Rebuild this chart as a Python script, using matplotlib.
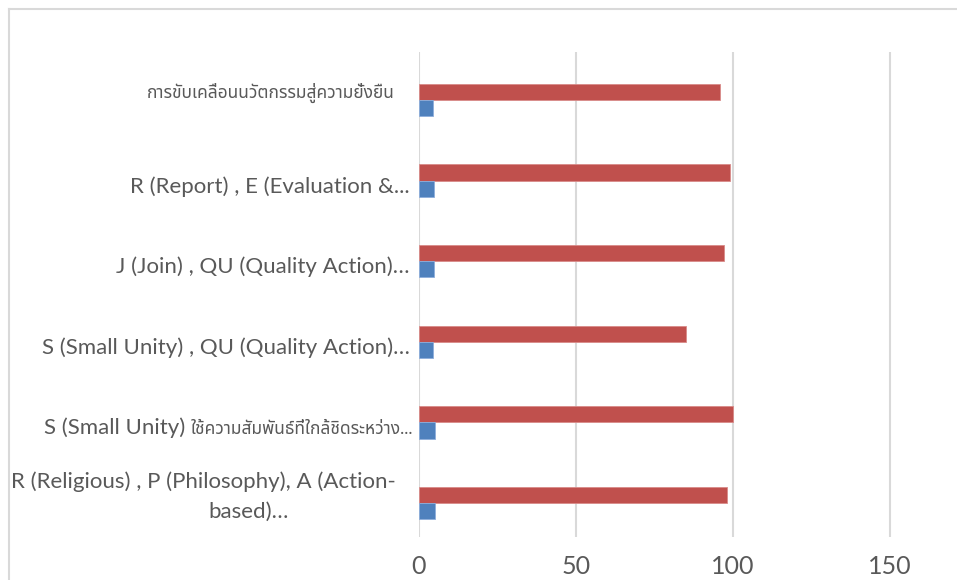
import numpy as np
import matplotlib
matplotlib.use("Agg")
import matplotlib.pyplot as plt
from matplotlib import font_manager as fm
from matplotlib.lines import Line2D
from matplotlib.transforms import blended_transform_factory, offset_copy

# categories, top -> bottom
categories = [
    "การขับเคลื่อนนวัตกรรมสู่ความยั่งยืน",
    "R (Report) , E (Evaluation &...",
    "J (Join) , QU (Quality Action)…",
    "S (Small Unity) , QU (Quality Action)…",
    ("S (Small Unity) ", "ใช้ความสัมพันธ์ที่ใกล้ชิดระหว่าง..."),
    "R (Religious) , P (Philosophy), A (Action-\nbased)…",
]
red_values = [96, 99, 97, 85, 100, 98]
blue_values = [4.6, 4.9, 4.7, 4.4, 5.1, 5.1]
x_ticks = [0, 50, 100, 150]


def find_thai_font():
    preferred = ["Noto Sans Thai", "Noto Sans Thai UI", "Tahoma", "Loma", "Garuda",
                 "Sarabun", "Tlwg Typo", "Norasi", "Kinnari", "Waree", "Umpush"]
    names = {f.name for f in fm.fontManager.ttflist}
    for p in preferred:
        if p in names:
            return p
    try:
        from fontTools.ttLib import TTFont
        for f in fm.fontManager.ttflist:
            try:
                tt = TTFont(f.fname, fontNumber=0, lazy=True)
                if 0x0E01 in tt.getBestCmap():
                    return f.name
            except Exception:
                pass
    except ImportError:
        pass
    return None


thai = find_thai_font()
families = ["Lato"] + ([thai] if thai else []) + ["DejaVu Sans"]
plt.rcParams["font.family"] = families

W, H = 957, 580
fig = plt.figure(figsize=(W / 100, H / 100), dpi=100)

x0, x150 = 419, 890
px_per_unit = (x150 - x0) / 150
top_px, bot_px = 52, 537
ax = fig.add_axes([x0 / W, 1 - bot_px / H, (W - x0) / W, (bot_px - top_px) / H])

y = np.arange(len(categories))
h = 0.2
ax.barh(y - h / 2, red_values, height=h, color="#C0504D", edgecolor="#D98B89", linewidth=0.6, zorder=3)
ax.barh(y + h / 2, blue_values, height=h, color="#4F81BD", edgecolor="#8DAEDB", linewidth=0.6, zorder=3)

ax.set_xlim(0, (W - x0) / px_per_unit)
step = 80.6
ax.set_ylim(5 + (bot_px - 503) / step, -(100 - top_px) / step)

ax.set_xticks(x_ticks)
ax.set_xticklabels([str(v) for v in x_ticks], fontsize=18, color="#595959")
ax.set_yticks(y)
ax.set_yticklabels([])
ax.tick_params(axis="both", length=0)
ax.tick_params(axis="x", pad=13)

ax.grid(axis="x", color="#D9D9D9", linewidth=1.5, zorder=0)
ax.grid(axis="y", visible=False)
for s in ax.spines.values():
    s.set_visible(False)

# category labels drawn by hand (Latin larger than Thai, as in the source)
base = blended_transform_factory(ax.transAxes, ax.transData)
label_dx = [24, 9, 9, 9, 6, 23]      # px left of the axis
label_dy = [-2, 12, 12, 12, 12, -21]  # px down from the category centre
latin_size, thai_size = 16, 12.5
color = "#595959"
renderer = fig.canvas.get_renderer()
for i, lab in enumerate(categories):
    tr = offset_copy(base, fig=fig, x=-label_dx[i], y=-label_dy[i], units="dots")
    if isinstance(lab, tuple):
        t2 = ax.text(0, i, lab[1], transform=tr, ha="right", va="baseline",
                     fontsize=thai_size, color=color)
        wd = t2.get_window_extent(renderer).width
        tr1 = offset_copy(base, fig=fig, x=-label_dx[i] - wd, y=-label_dy[i], units="dots")
        ax.text(0, i, lab[0], transform=tr1, ha="right", va="baseline",
                fontsize=latin_size, color=color)
    elif "\n" in lab:
        first, second = lab.split("\n")
        ax.text(0, i, first, transform=tr, ha="right", va="center",
                fontsize=latin_size, color=color)
        # wrapped second line sits a little right of the first line's centre
        tr2 = offset_copy(base, fig=fig, x=-(x0 - 249), y=-label_dy[i] - 30, units="dots")
        ax.text(0, i, second, transform=tr2, ha="center", va="center",
                fontsize=latin_size, color=color)
    else:
        is_thai = lab[0] >= "\u0e00"
        ax.text(0, i, lab, transform=tr, ha="right", va="baseline",
                fontsize=thai_size if is_thai else latin_size, color=color)

# outer chart frame (cropped on right and bottom)
fig.add_artist(Line2D([8.5 / W, 8.5 / W], [0, 1 - 9 / H], color="#D9D9D9", linewidth=1.5, transform=fig.transFigure))
fig.add_artist(Line2D([8.5 / W, 1], [1 - 9 / H, 1 - 9 / H], color="#D9D9D9", linewidth=1.5, transform=fig.transFigure))

fig.savefig("out.png", dpi=100)
